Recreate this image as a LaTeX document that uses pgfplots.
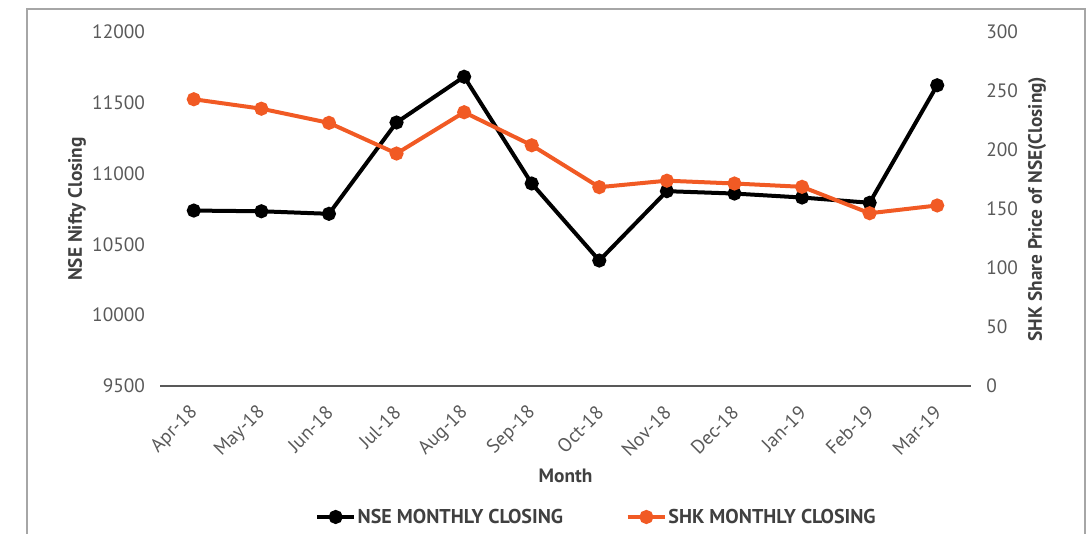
\documentclass[border=0pt]{standalone}
\usepackage{fontspec}
\setmainfont{PT Sans}
\usepackage{pgfplots}
\usepackage{pgfplotstable}
\pgfplotsset{compat=1.18}

\definecolor{shkorange}{HTML}{F15A24}
\definecolor{ticktext}{HTML}{595959}
\definecolor{titletext}{HTML}{404040}
\definecolor{framegray}{HTML}{A6A6A6}

% month index, label, NSE Nifty closing, SHK share price
\pgfplotstableread{
idx month  nse   shk
0   Apr-18 10739 243
1   May-18 10734 235
2   Jun-18 10716 223
3   Jul-18 11361 197
4   Aug-18 11684 232
5   Sep-18 10930 204
6   Oct-18 10386 168.5
7   Nov-18 10876 174
8   Dec-18 10859 171.6
9   Jan-19 10831 168.8
10  Feb-19 10794 146.4
11  Mar-19 11624 153
}\datatable

\pgfplotsset{
  common/.style={
    at={(120pt,110.25pt)}, anchor=south west,
    scale only axis, width=608.25pt, height=265.5pt,
    xmin=-0.5, xmax=11.5,
    scaled y ticks=false,
    yticklabel={\pgfmathprintnumber[fixed, 1000 sep={}, assume math mode=true]{\tick}},
    tick label style={font=\fontsize{14.5}{17}\selectfont, text=ticktext},
    label style={font=\bfseries\fontsize{14.5}{17}\selectfont, text=titletext},
    ytick style={draw=none},
    y axis line style={draw=none},
  },
}

\begin{document}
\begin{tikzpicture}
\useasboundingbox (0,0) rectangle (816.75pt,399.75pt);
\draw[framegray, line width=1.5pt] (20.25pt,-3pt) -- (20.25pt,393pt) -- (813.75pt,393pt) -- (813.75pt,-3pt);

\begin{axis}[
  common,
  axis x line*=bottom, axis y line*=left,
  x axis line style={ticktext, line width=1.2pt},
  ymin=9500, ymax=12000, ytick={9500,10000,...,12000},
  yticklabel style={xshift=-3.5pt},
  xtick={0,...,11},
  xticklabels from table={\datatable}{month},
  xtick style={draw=none},
  minor xtick={-0.5,0.5,...,11.5},
  minor x tick style={ticktext, line width=1pt},
  minor tick length=5pt, tick align=outside,
  xticklabel style={yshift=-11pt, xshift=3pt, rotate=45, anchor=east},
  xlabel={Month},
  xlabel style={at={(axis description cs:0.5,-0.254)}, anchor=center},
  ylabel={NSE Nifty Closing},
  ylabel style={at={(axis description cs:-0.1023,0.5)}, anchor=center},
]
\addplot[black, line width=3pt, mark=*, mark size=3.75pt] table[x=idx, y=nse] {\datatable};
\end{axis}

\begin{axis}[
  common,
  axis x line=none, axis y line*=right,
  ymin=0, ymax=300, ytick={0,50,...,300},
  yticklabel style={xshift=8pt},
  ylabel={SHK Share Price of NSE(Closing)},
  ylabel style={at={(axis description cs:1.0814,0.5)}, anchor=center},
  legend columns=2,
  legend style={draw=none, fill=none, at={(0.5376,-0.37)}, anchor=center,
    font=\bfseries\fontsize{15}{18}\selectfont, text=titletext,
    nodes={inner xsep=1pt},
    /tikz/every even column/.append style={column sep=46pt}},
  legend image code/.code={\draw[mark repeat=2, mark phase=2, #1] plot coordinates {(0pt,0pt) (14pt,0pt) (28pt,0pt)};},
]
\addlegendimage{black, line width=3pt, mark=*, mark size=3.75pt}
\addlegendentry{NSE MONTHLY CLOSING}
\addplot[shkorange, line width=3pt, mark=*, mark size=3.75pt] table[x=idx, y=shk] {\datatable};
\addlegendentry{SHK MONTHLY CLOSING}
\end{axis}
\end{tikzpicture}
\end{document}
